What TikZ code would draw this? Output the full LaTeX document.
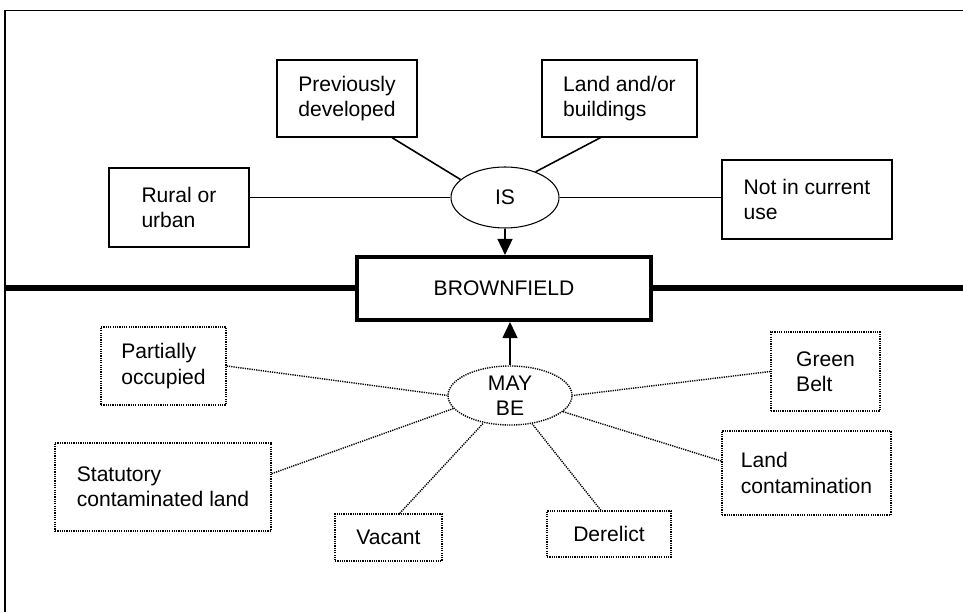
\documentclass[tikz,border=0pt]{standalone}
\usepackage{fontspec}
\setmainfont{Liberation Sans}
\usetikzlibrary{arrows.meta,shapes.geometric}

\begin{document}
\begin{tikzpicture}[font=\fontsize{12}{14.4}\selectfont,
    box/.style={rectangle,draw,line width=0.8pt,align=left,inner sep=0},
    dbox/.style={rectangle,draw,dash pattern=on 0.7pt off 0.6pt,line width=0.8pt,align=left,inner sep=0},
    oval/.style={ellipse,draw,line width=0.6pt,align=center,inner sep=0},
    link/.style={line width=0.6pt},
    dlink/.style={dash pattern=on 0.7pt off 0.6pt,line width=0.8pt},
    arr/.style={line width=0.8pt,-{Triangle[length=3.2mm,width=3mm]}}]
    \useasboundingbox (0,0) rectangle (19.26,12.24);

    % frame and dividing line
    \draw[line width=0.9pt] (0.1,0)--(0.1,12.03)--(19.26,12.03);
    \draw[line width=3.4pt] (0.1,6.48)--(19.26,6.48);

    \draw
    (10.08,6.47)node[rectangle,draw,fill=white,line width=2.3pt,minimum width=5.88cm,minimum height=1.26cm](bf){BROWNFIELD}

    (10.10,8.29)node[oval,minimum width=2.16cm,minimum height=1.22cm](is){IS}
    (6.94,10.27)node[box,minimum width=2.8cm,minimum height=1.54cm](pd){Previously\\developed}
    (12.39,10.27)node[box,minimum width=3.1cm,minimum height=1.54cm](lb){Land and/or\\buildings}
    (3.58,8.09)node[box,minimum width=2.8cm,minimum height=1.58cm](ru){Rural or\\urban}
    (16.14,8.25)node[box,minimum width=3.4cm,minimum height=1.58cm](nc){Not in current\\use}

    (10.20,4.33)node[oval,dash pattern=on 0.7pt off 0.6pt,line width=0.8pt,minimum width=2.48cm,minimum height=1.18cm](mb){MAY\\BE}
    (3.27,4.92)node[dbox,minimum width=2.5cm,minimum height=1.56cm](po){Partially\\occupied}
    (16.51,4.81)node[dbox,minimum width=2.18cm,minimum height=1.58cm](gb){Green\\Belt}
    (3.26,2.50)node[dbox,minimum width=4.32cm,minimum height=1.76cm](sc){Statutory\\contaminated land}
    (7.77,1.49)node[dbox,minimum width=2.14cm,minimum height=0.94cm](va){Vacant}
    (12.18,1.56)node[dbox,minimum width=2.48cm,minimum height=0.92cm](de){Derelict}
    (16.13,2.78)node[dbox,minimum width=3.38cm,minimum height=1.68cm](lc){Land\\contamination}
    ;

    \draw[link,line width=0.9pt](pd.-41)--(is.158);
    \draw[link,line width=0.9pt](lb.244)--(is.40);
    \draw[link](is.west)--(is.west -| ru.east);
    \draw[link](is.east)--(is.east -| nc.west);
    \draw[arr](is.south)--(is.south |- bf.north);

    \draw[dlink](po.east)--(mb.west);
    \draw[dlink](gb.west)--(mb.east);
    \draw[dlink](sc.7)--(mb.193);
    \draw[dlink](va.65)--(mb.226);
    \draw[dlink](de.109)--(mb.308);
    \draw[dlink](lc.172)--(mb.343);
    \draw[arr](mb.north)--(mb.north |- bf.south);

\end{tikzpicture}
\end{document}
